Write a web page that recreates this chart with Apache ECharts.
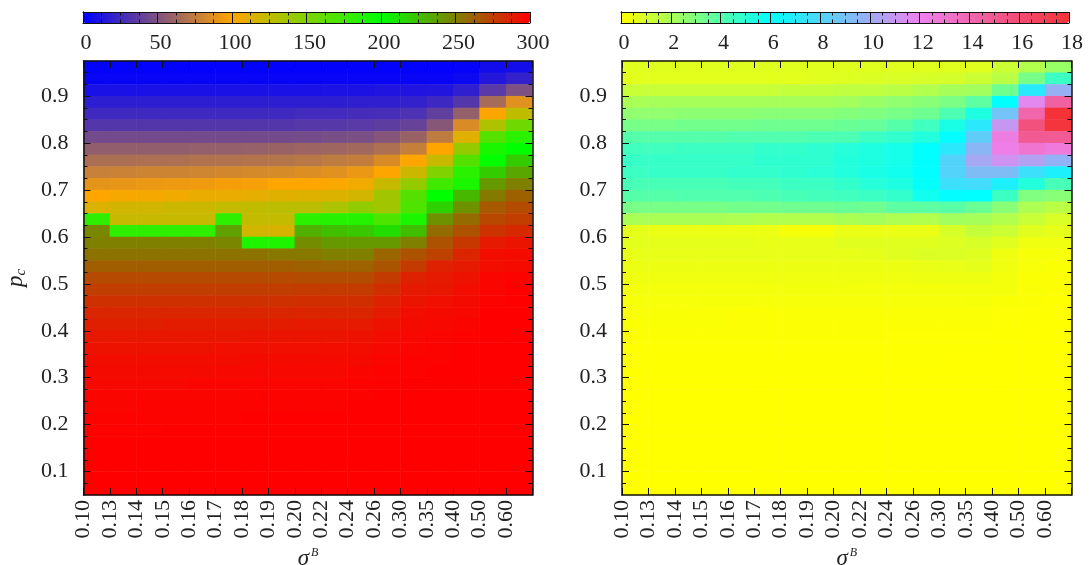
<!DOCTYPE html>
<html><head><meta charset="utf-8">
<style>html,body{margin:0;padding:0;background:#fff}#c{width:1089px;height:565px}</style>
<script src="https://cdn.jsdelivr.net/npm/echarts@6/dist/echarts.min.js"></script>
</head><body><div id="c"></div>
<script>
const xLabels = ['0.10','0.13','0.14','0.15','0.16','0.17','0.18','0.19','0.20','0.22','0.24','0.26','0.30','0.35','0.40','0.50','0.60'];
const xTickPositions = [0,1,2,3,4,5,6,7,8,9,10,11,12,13,14,15,16,17];
const xLabelPositions = [0,1,2,3,4,5,6,7,8,9,10,11,12,13,14,15,16];
const yMajor = [0.1,0.2,0.3,0.4,0.5,0.6,0.7,0.8,0.9];
const yMinor = [0.075,0.125,0.15,0.175,0.225,0.25,0.275,0.325,0.35,0.375,0.425,0.45,0.475,0.525,0.55,0.575,0.625,0.65,0.675,0.725,0.75,0.775,0.825,0.85,0.875,0.925,0.95];
const leftColors = ['#0000ff','#ffa500','#00ff00','#ff0000'];
const rightColors = ['#ffff00','#00ffff','#ee82ee','#f53237'];

// rows run top (p_c 0.95-0.975) to bottom (0.05-0.075)
const leftValues = [
[1,1,1,1,1,1,1,1,1,1,1,1,1,1,2,7,8],
[3,3,3,3,3,3,3,3,3,3,3,3,3,3,5,14,20],
[10,10,10,10,10,10,10,10,10,11,11,12,12,13,19,35,49],
[18,18,18,18,18,18,18,18,18,18,19,19,20,24,33,65,88],
[25,25,25,25,25,25,25,25,26,26,27,28,30,38,58,100,125],
[33,33,33,33,33,33,33,33,34,34,35,37,40,53,85,131,157],
[45,45,45,45,45,45,45,45,46,47,48,52,60,75,112,167,184],
[57,57,57,57,58,58,59,60,61,62,63,68,77,100,141,190,200],
[67,67,68,68,69,69,70,71,72,75,76,85,100,122,167,200,220],
[78,79,80,80,81,82,83,84,86,88,92,100,120,150,184,220,235],
[90,91,92,93,94,96,97,100,100,102,106,122,141,175,190,240,250],
[100,103,104,106,108,108,110,112,113,114,118,137,167,200,228,252,262],
[114,118,118,120,120,124,125,127,127,133,143,137,169,218,243,265,270],
[182,122,122,122,122,182,124,124,184,186,186,170,190,243,258,272,276],
[247,182,182,182,182,237,118,116,231,225,222,213,225,258,268,280,284],
[250,250,250,250,250,248,188,188,245,240,240,240,250,268,278,290,292],
[255,255,255,255,255,255,255,253,253,250,250,260,268,274,286,295,296],
[263,263,263,263,263,263,263,263,262,261,261,267,277,287,290,295,296],
[271,271,271,271,271,271,271,271,270,270,270,277,287,290,293,298,299],
[276,276,276,276,276,276,276,276,277,277,277,282,290,291,295,298,300],
[281,281,281,281,281,281,281,281,282,282,282,287,292,294,296,299,300],
[285,285,285,285,285,285,285,285,286,286,286,290,295,296,297,300,300],
[288,288,288,289,289,289,289,289,290,290,290,293,296,297,298,300,300],
[291,291,291,291,291,291,292,292,292,292,293,295,297,298,299,300,300],
[293,293,293,293,293,294,294,294,294,295,295,297,298,299,300,300,300],
[295,295,295,295,295,295,296,296,296,296,296,298,299,299,300,300,300],
[296,296,296,296,296,297,297,297,297,297,298,299,299,300,300,300,300],
[297,297,297,297,298,298,298,298,298,298,299,299,300,300,300,300,300],
[298,298,298,298,298,298,299,299,299,299,299,300,300,300,300,300,300],
[298,298,299,299,299,299,299,299,299,299,300,300,300,300,300,300,300],
[299,299,299,299,299,299,300,300,300,300,300,300,300,300,300,300,300],
[299,299,299,300,300,300,300,300,300,300,300,300,300,300,300,300,300],
[300,300,300,300,300,300,300,300,300,300,300,300,300,300,300,300,300],
[300,300,300,300,300,300,300,300,300,300,300,300,300,300,300,300,300],
[300,300,300,300,300,300,300,300,300,300,300,300,300,300,300,300,300],
[300,300,300,300,300,300,300,300,300,300,300,300,300,300,300,300,300],
[300,300,300,300,300,300,300,300,300,300,300,300,300,300,300,300,300]
];
const rightValues = [
[0.7,0.7,0.7,0.7,0.7,0.7,0.7,0.7,0.7,0.7,0.7,0.7,0.7,0.7,1.2,1.8,2.4],
[0.65,0.65,0.65,0.65,0.65,0.65,0.65,0.7,0.8,0.85,0.9,0.95,1.0,1.2,1.6,3.2,4.6],
[1.3,1.3,1.3,1.3,1.3,1.3,1.4,1.4,1.5,1.5,1.6,1.8,2.1,2.2,3.4,7.0,9.8],
[2.0,2.1,2.1,2.1,2.1,2.1,2.1,2.1,2.2,2.4,2.6,2.8,3.1,3.8,6.0,11.7,14.5],
[2.6,2.6,2.7,2.7,2.7,2.8,2.8,2.8,2.9,3.0,3.2,3.4,4.2,5.3,8.9,14.2,18],
[3.2,3.2,3.3,3.3,3.3,3.4,3.4,3.4,3.5,3.6,4.0,4.5,5.4,7.1,11,15.7,17.8],
[4.0,4.0,4.0,4.0,4.1,4.1,4.1,4.2,4.2,4.6,4.8,5.2,6.1,8.4,12.4,15,15],
[4.5,4.5,4.6,4.6,4.6,4.8,4.8,4.9,5.1,5.3,5.5,6,7.1,9.5,12.2,13,12.6],
[4.7,4.7,4.7,4.7,4.7,4.9,4.9,4.9,5.2,5.3,5.5,6,8.1,10.2,11.2,10.5,9.7],
[4.6,4.7,4.7,4.7,4.8,4.8,4.9,5.0,5.2,5.4,5.6,6,8.1,9.2,9.2,7.5,6.7],
[4.3,4.3,4.3,4.3,4.4,4.4,4.6,4.6,4.8,5.1,5.3,5.9,7.5,7.7,6.7,5.2,4.3],
[4,4,4.1,4.1,4.1,4.2,4.3,4.4,4.5,4.6,4.8,5.6,6.1,6,4.6,3,2.8],
[3.2,3.2,3.2,3.2,3.3,3.3,3.4,3.4,3.5,3.4,3.8,3.8,3.9,3.5,2.8,1.9,1.6],
[2,2,2,2,1.9,1.8,1.8,1.8,2,2.1,1.9,1.8,2.2,2.1,1.8,1.3,0.9],
[0.6,0.48,0.48,0.48,0.48,0.42,0.18,0.18,0.5,0.5,0.5,0.5,0.95,1.4,1.2,0.7,0.6],
[0.65,0.62,0.62,0.62,0.62,0.55,0.55,0.55,0.7,0.7,0.7,0.7,0.8,0.95,0.7,0.35,0.35],
[0.55,0.55,0.55,0.55,0.55,0.55,0.55,0.55,0.55,0.6,0.7,0.85,0.85,0.75,0.35,0.2,0.2],
[0.45,0.45,0.45,0.45,0.45,0.45,0.45,0.45,0.45,0.45,0.45,0.5,0.55,0.6,0.35,0.2,0.1],
[0.35,0.35,0.35,0.35,0.35,0.35,0.35,0.35,0.35,0.35,0.35,0.4,0.4,0.4,0.25,0.1,0.08],
[0.28,0.25,0.25,0.25,0.25,0.28,0.3,0.3,0.3,0.25,0.25,0.25,0.28,0.28,0.25,0.12,0.08],
[0.2,0.2,0.2,0.18,0.18,0.2,0.2,0.2,0.2,0.2,0.2,0.2,0.2,0.18,0.1,0.06,0.03],
[0.15,0.15,0.15,0.12,0.08,0.08,0.12,0.12,0.12,0.12,0.12,0.12,0.12,0.12,0.08,0.04,0.02],
[0.1,0.1,0.1,0.09,0.08,0.08,0.08,0.08,0.08,0.08,0.08,0.08,0.08,0.07,0.05,0.02,0.01],
[0.07,0.07,0.07,0.06,0.06,0.06,0.06,0.06,0.06,0.06,0.05,0.05,0.05,0.04,0.03,0.01,0.01],
[0.05,0.05,0.05,0.05,0.04,0.04,0.04,0.04,0.04,0.04,0.03,0.03,0.03,0.02,0.01,0,0],
[0.03,0.03,0.03,0.03,0.03,0.03,0.03,0.03,0.03,0.02,0.02,0.02,0.01,0.01,0,0,0],
[0.02,0.02,0.02,0.02,0.02,0.02,0.02,0.02,0.02,0.01,0.01,0.01,0.01,0,0,0,0],
[0.01,0.01,0.01,0.01,0.01,0.01,0.01,0.01,0.01,0.01,0.01,0,0,0,0,0,0],
[0.01,0.01,0.01,0.01,0.01,0.01,0,0,0,0,0,0,0,0,0,0,0],
[0,0,0,0,0,0,0,0,0,0,0,0,0,0,0,0,0],
[0,0,0,0,0,0,0,0,0,0,0,0,0,0,0,0,0],
[0,0,0,0,0,0,0,0,0,0,0,0,0,0,0,0,0],
[0,0,0,0,0,0,0,0,0,0,0,0,0,0,0,0,0],
[0,0,0,0,0,0,0,0,0,0,0,0,0,0,0,0,0],
[0,0,0,0,0,0,0,0,0,0,0,0,0,0,0,0,0],
[0,0,0,0,0,0,0,0,0,0,0,0,0,0,0,0,0],
[0,0,0,0,0,0,0,0,0,0,0,0,0,0,0,0,0]
];

const FONT = '"Liberation Serif", serif';
const LABEL = {fontFamily: FONT, fontSize: 22, color: '#222'};
const LINE = {color: '#111', width: 1};
const BORDER = {color: '#111', width: 1.5};
const plotTop = 61, plotH = 434, barTop = 12, barH = 11;
const panels = [
  {left: 83.5, width: 449, barLeft: 83, barWidth: 447, max: 300, major: 50, minor: 12.5, colors: leftColors, values: leftValues, yName: true},
  {left: 622, width: 449.5, barLeft: 621, barWidth: 448, max: 18, major: 2, minor: 0.5, colors: rightColors, values: rightValues, yName: false}
];
const sigmaName = {
  name: '{s|σ}{b|B}',
  nameLocation: 'middle',
  nameGap: 48,
  nameTextStyle: {rich: {
    s: {fontFamily: FONT, fontStyle: 'italic', fontSize: 23, color: '#222', lineHeight: 24, verticalAlign: 'bottom'},
    b: {fontFamily: FONT, fontStyle: 'italic', fontSize: 12, color: '#222', lineHeight: 24, verticalAlign: 'top', padding: [0,0,0,2]}
  }}
};
const pName = {
  name: '{p|p}{c|c}',
  nameLocation: 'middle',
  nameRotate: 90,
  nameGap: 55,
  nameTextStyle: {rich: {
    p: {fontFamily: FONT, fontStyle: 'italic', fontSize: 23, color: '#222', lineHeight: 24, verticalAlign: 'top'},
    c: {fontFamily: FONT, fontStyle: 'italic', fontSize: 15, color: '#222', lineHeight: 24, verticalAlign: 'bottom'}
  }}
};

const option = {animation: false, backgroundColor: '#fff', grid: [], xAxis: [], yAxis: [], series: [], visualMap: []};
panels.forEach((p, idx) => {
  const g = idx * 2, gb = g + 1;
  option.grid.push({left: p.left, top: plotTop, width: p.width, height: plotH, containLabel: false, outerBoundsMode: 'none'});
  option.grid.push({left: p.barLeft, top: barTop, width: p.barWidth, height: barH, containLabel: false, outerBoundsMode: 'none'});
  const xIdx = option.xAxis.length, yIdx = option.yAxis.length;
  const off = {show: false};
  option.xAxis.push({type: 'category', gridIndex: g, data: xLabels, show: false});
  option.yAxis.push({type: 'category', gridIndex: g, inverse: true, data: p.values.map((_, i) => String(i)), show: false});
  const xv = {type: 'value', gridIndex: g, min: 0, max: 17, interval: 1, splitLine: off, z: 10};
  option.xAxis.push(Object.assign({}, xv, sigmaName, {position: 'bottom',
    axisLine: {show: true, lineStyle: BORDER},
    axisTick: {show: true, inside: true, length: 7, lineStyle: LINE, customValues: xTickPositions},
    axisLabel: Object.assign({}, LABEL, {rotate: 90, margin: 5, padding: [0,0,6,0], customValues: xLabelPositions, formatter: v => xLabels[v] || ''})}));
  option.xAxis.push(Object.assign({}, xv, {position: 'top',
    axisLine: {show: true, lineStyle: BORDER},
    axisTick: {show: true, inside: true, length: 7, lineStyle: LINE, customValues: xTickPositions},
    axisLabel: off}));
  const yv = {type: 'value', gridIndex: g, min: 0.05, max: 0.975, splitLine: off, z: 10};
  option.yAxis.push(Object.assign({}, yv, p.yName ? pName : {}, {position: 'left',
    axisLine: {show: true, lineStyle: BORDER},
    axisTick: {show: true, inside: true, length: 7, lineStyle: LINE, customValues: yMajor},
    axisLabel: Object.assign({}, LABEL, {margin: 15, customValues: yMajor, formatter: v => v.toFixed(1)})}));
  option.yAxis.push(Object.assign({}, yv, {position: 'left', axisLine: off,
    axisTick: {show: true, inside: true, length: 4, lineStyle: LINE, customValues: yMinor}, axisLabel: off}));
  option.yAxis.push(Object.assign({}, yv, {position: 'right',
    axisLine: {show: true, lineStyle: BORDER},
    axisTick: {show: true, inside: true, length: 7, lineStyle: LINE, customValues: yMajor}, axisLabel: off}));
  option.yAxis.push(Object.assign({}, yv, {position: 'right', axisLine: off,
    axisTick: {show: true, inside: true, length: 4, lineStyle: LINE, customValues: yMinor}, axisLabel: off}));

  const data = [];
  p.values.forEach((row, r) => row.forEach((v, c) => data.push([c, r, v])));
  const sIdx = option.series.length;
  option.series.push({type: 'heatmap', xAxisIndex: xIdx, yAxisIndex: yIdx, data, progressive: 0,
    itemStyle: {borderWidth: 0}, emphasis: {disabled: true}, silent: true});
  option.visualMap.push({type: 'continuous', seriesIndex: sIdx, dimension: 2, min: 0, max: p.max,
    orient: 'horizontal', left: p.barLeft, top: barTop, itemWidth: barH, itemHeight: p.barWidth, padding: 0,
    calculable: false, realtime: false, hoverLink: false, showLabel: false, text: null, inRange: {color: p.colors}});

  const bv = {type: 'value', gridIndex: gb, min: 0, max: p.max, splitLine: off, z: 10};
  option.xAxis.push(Object.assign({}, bv, {position: 'bottom', interval: p.major,
    axisLine: {show: true, lineStyle: LINE},
    axisTick: {show: true, inside: true, length: barH, lineStyle: LINE},
    axisLabel: Object.assign({}, LABEL, {margin: 9, padding: [0,0,0,6], showMinLabel: true, showMaxLabel: true})}));
  option.xAxis.push(Object.assign({}, bv, {position: 'bottom', interval: p.minor, axisLine: off,
    axisTick: {show: true, inside: true, length: 3.5, lineStyle: LINE}, axisLabel: off}));
  option.xAxis.push(Object.assign({}, bv, {position: 'top', interval: p.minor,
    axisLine: {show: true, lineStyle: LINE},
    axisTick: {show: true, inside: true, length: 3.5, lineStyle: LINE}, axisLabel: off}));
  const bh = {type: 'value', gridIndex: gb, min: 0, max: 1, splitLine: off, axisTick: off, axisLabel: off, axisLine: {show: true, lineStyle: LINE}, z: 10};
  option.yAxis.push(Object.assign({}, bh, {position: 'left'}));
  option.yAxis.push(Object.assign({}, bh, {position: 'right'}));
});
echarts.init(document.getElementById('c'), null, {renderer: 'canvas'}).setOption(option);
</script></body></html>
